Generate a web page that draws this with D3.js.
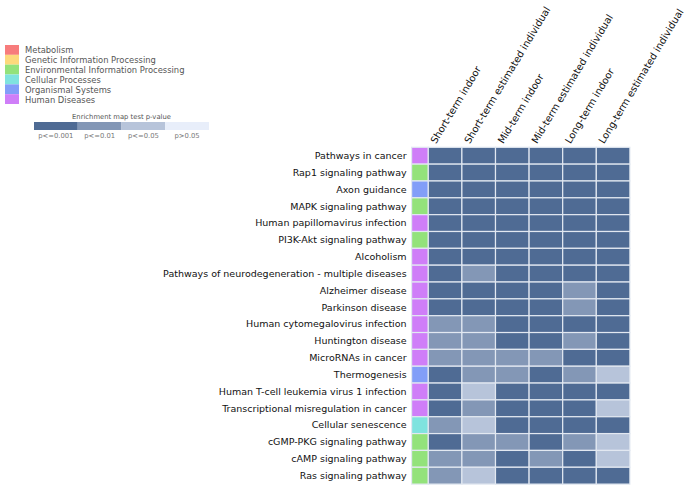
<!DOCTYPE html>
<html><head><meta charset="utf-8">
<script src="https://cdn.jsdelivr.net/npm/d3@7"></script>
<style>body{margin:0;background:#fff;} text{font-family:"DejaVu Sans",sans-serif;}</style>
</head><body><svg id="c" width="685" height="487"></svg>
<script>
const pathways = ["Pathways in cancer","Rap1 signaling pathway","Axon guidance","MAPK signaling pathway","Human papillomavirus infection","PI3K-Akt signaling pathway","Alcoholism","Pathways of neurodegeneration - multiple diseases","Alzheimer disease","Parkinson disease","Human cytomegalovirus infection","Huntington disease","MicroRNAs in cancer","Thermogenesis","Human T-cell leukemia virus 1 infection","Transcriptional misregulation in cancer","Cellular senescence","cGMP-PKG signaling pathway","cAMP signaling pathway","Ras signaling pathway"];
const pathwayClass = ["Human Diseases","Environmental Information Processing","Organismal Systems","Environmental Information Processing","Human Diseases","Environmental Information Processing","Human Diseases","Human Diseases","Human Diseases","Human Diseases","Human Diseases","Human Diseases","Human Diseases","Organismal Systems","Human Diseases","Human Diseases","Cellular Processes","Environmental Information Processing","Environmental Information Processing","Environmental Information Processing"];
const conditions = ["Short-term indoor","Short-term estimated individual","Mid-term indoor","Mid-term estimated individual","Long-term indoor","Long-term estimated individual"];
// 0: p<=0.001, 1: p<=0.01, 2: p<=0.05, 3: p>0.05
const pLevels = [
 [0,0,0,0,0,0],
 [0,0,0,0,0,0],
 [0,0,0,0,0,0],
 [0,0,0,0,0,0],
 [0,0,0,0,0,0],
 [0,0,0,0,0,0],
 [0,0,0,0,0,0],
 [0,1,0,0,0,0],
 [0,0,0,0,1,0],
 [0,0,0,0,1,0],
 [1,1,0,0,0,0],
 [1,1,0,0,1,0],
 [1,1,1,1,0,0],
 [0,1,1,0,1,2],
 [0,2,0,0,0,0],
 [0,1,0,0,0,2],
 [1,2,0,0,0,0],
 [0,1,1,0,1,2],
 [1,1,0,1,0,2],
 [1,2,0,0,0,0]
];
const classNames = ["Metabolism","Genetic Information Processing","Environmental Information Processing","Cellular Processes","Organismal Systems","Human Diseases"];
const classColors = ["#f77c7c","#fcd97c","#93e27b","#7fe3df","#829ef8","#cf7ef8"];
const pLabels = ["p<=0.001","p<=0.01","p<=0.05","p>0.05"];
const pColors = ["#4f6b94","#8397b6","#b7c4da","#e8eefa"];

const svg = d3.select("#c");
const gridLeft = 428.3, gridTop = 147.3, colW = 33.6, rowH = 16.84, catW = 16.7;
const x = d3.scaleBand().domain(conditions).range([gridLeft, gridLeft + colW*conditions.length]);
const y = d3.scaleBand().domain(pathways).range([gridTop, gridTop + rowH*pathways.length]);
const classColor = d3.scaleOrdinal().domain(classNames).range(classColors);
const pColor = d3.scaleOrdinal().domain(d3.range(4)).range(pColors);
const stroke = "#e2e8f1";

// category column
svg.append("g").selectAll("rect").data(pathways).join("rect")
  .attr("x", gridLeft - catW).attr("y", d => y(d))
  .attr("width", catW).attr("height", y.bandwidth())
  .attr("fill", (d,i) => classColor(pathwayClass[i]))
  .attr("stroke", stroke).attr("stroke-width", 1.2);

// heatmap cells
const cells = [];
pathways.forEach((p,i) => conditions.forEach((c,j) => cells.push({p, c, v: pLevels[i][j]})));
svg.append("g").selectAll("rect").data(cells).join("rect")
  .attr("x", d => x(d.c)).attr("y", d => y(d.p))
  .attr("width", x.bandwidth()).attr("height", y.bandwidth())
  .attr("fill", d => pColor(d.v))
  .attr("stroke", stroke).attr("stroke-width", 1.2);

// row labels
svg.append("g").selectAll("text").data(pathways).join("text")
  .attr("x", gridLeft - catW - 5).attr("y", d => y(d) + y.bandwidth()/2)
  .attr("dy", "0.35em").attr("text-anchor", "end")
  .attr("font-size", 9.5).attr("fill", "#111").text(d => d);

// column labels
svg.append("g").selectAll("text").data(conditions).join("text")
  .attr("transform", d => `translate(${x(d) + x.bandwidth()/2 - 9},${gridTop - 3}) rotate(-59)`)
  .attr("text-anchor", "start")
  .attr("font-size", 9.9).attr("fill", "#111").text(d => d);

// class legend
const lg = svg.append("g");
const ly = d3.scaleBand().domain(classNames).range([45, 104]);
lg.selectAll("rect").data(classNames).join("rect")
  .attr("x", 5).attr("y", d => ly(d)).attr("width", 14).attr("height", ly.bandwidth())
  .attr("fill", d => classColor(d));
lg.selectAll("text").data(classNames).join("text")
  .attr("x", 25).attr("y", d => ly(d) + ly.bandwidth()/2 + 0.5).attr("dy", "0.35em")
  .attr("font-size", 8.4).attr("fill", "#555").text(d => d);

// p-value colorbar
const cb = svg.append("g");
const cx = d3.scaleBand().domain(d3.range(4)).range([34, 209]);
cb.append("text").attr("x", 121.5).attr("y", 119).attr("text-anchor", "middle")
  .attr("font-size", 6.8).attr("fill", "#555").text("Enrichment map test p-value");
cb.selectAll("rect").data(d3.range(4)).join("rect")
  .attr("x", d => cx(d)).attr("y", 122).attr("width", cx.bandwidth()).attr("height", 8)
  .attr("fill", d => pColor(d));
cb.selectAll("text.l").data(d3.range(4)).join("text").attr("class","l")
  .attr("x", d => cx(d) + cx.bandwidth()/2).attr("y", 138).attr("text-anchor", "middle")
  .attr("font-size", 6.8).attr("fill", "#777").text(d => pLabels[d]);
</script></body></html>
